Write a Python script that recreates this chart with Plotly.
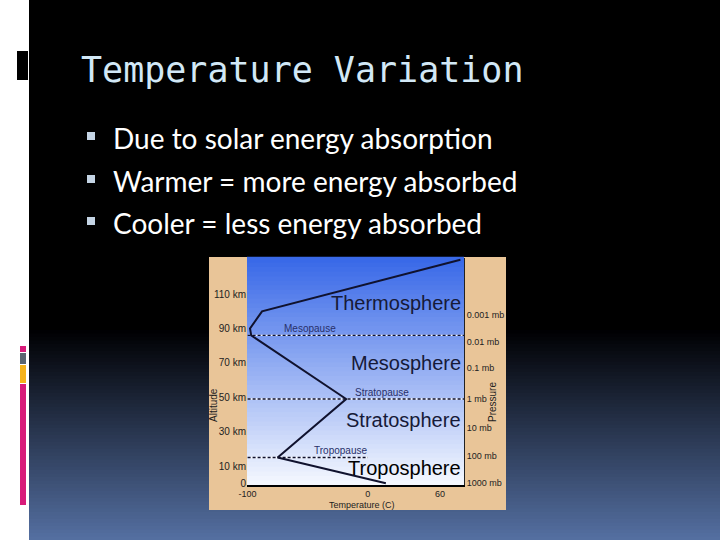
import plotly.graph_objects as go

# ---- data ----
profile_temp_c = [15, -75, -18, -97, -98, -88, 77]
profile_alt_km = [0, 15, 49, 86, 90, 100, 130]

boundary_names = ["Tropopause", "Stratopause", "Mesopause"]
boundary_alt_km = [15, 49, 86]
boundary_end_temp = [0, 80, 80]
boundary_label_temp = [-23, 12, -48]

layer_names = ["Troposphere", "Stratosphere", "Mesosphere", "Thermosphere"]
layer_label_alt = [9, 37, 70, 105]

alt_tick_vals = [0, 10, 30, 50, 70, 90, 110]
alt_tick_text = ["0", "10 km", "30 km", "50 km", "70 km", "90 km", "110 km"]

pressure_tick_alt = [0, 16, 32, 49, 67, 82, 98]
pressure_tick_text = ["1000 mb", "100 mb", "10 mb", "1 mb", "0.1 mb", "0.01 mb", "0.001 mb"]

temp_tick_vals = [-100, 0, 60]
temp_tick_text = ["-100", "0", "60"]

title_text = "Temperature Variation"
bullets = ["Due to solar energy absorption",
           "Warmer = more energy absorbed",
           "Cooler = less energy absorbed"]

W, H = 720, 540
def px(x): return x / W
def py(y): return 1 - y / H

PL, PR, PT, PB = 247, 464, 258, 485

fig = go.Figure()

for name, alt, xe in zip(boundary_names, boundary_alt_km, boundary_end_temp):
    fig.add_trace(go.Scatter(x=[-100, xe], y=[alt, alt], mode="lines",
                             line=dict(color="rgba(255,255,255,0.9)", width=1.3),
                             hoverinfo="skip", showlegend=False))
    fig.add_trace(go.Scatter(x=[-100, xe], y=[alt, alt], mode="lines",
                             line=dict(color="#10122e", width=1.3, dash="3px,2px"),
                             hoverinfo="skip", showlegend=False))
    fig.add_trace(go.Scatter(x=[-100, xe], y=[alt, alt], mode="lines",
                             line=dict(color="rgba(0,0,0,0)", width=1),
                             hoverinfo="skip", showlegend=False, yaxis="y2"))
fig.add_trace(go.Scatter(x=profile_temp_c, y=profile_alt_km, mode="lines",
                         line=dict(color="#10122e", width=2), hoverinfo="skip",
                         showlegend=False))

shapes = []
shapes.append(dict(type="rect", xref="paper", yref="paper", x0=px(29), x1=1, y0=0, y1=1,
                   fillcolor="black", line=dict(width=0), layer="below"))
g0, g1 = 330, 540
n = 60
for i in range(n):
    y0 = g0 + (g1 - g0) * i / n
    y1 = g0 + (g1 - g0) * (i + 1) / n + 0.5
    t = (i + 0.5) / n
    r = int(85 * t); g = int(112 * t); b = int(2 + 160 * t)
    shapes.append(dict(type="rect", xref="paper", yref="paper", x0=px(29), x1=1,
                       y0=py(y1), y1=py(y0), fillcolor=f"rgb({r},{g},{b})",
                       line=dict(width=0), layer="below"))
shapes.append(dict(type="rect", xref="paper", yref="paper", x0=px(17), x1=px(28), y0=py(80), y1=py(51),
                   fillcolor="black", line=dict(width=0), layer="below"))
for (a, b_, c) in [(346, 352, "#d81b7a"), (353, 364, "#5a6470"), (365, 383, "#f5b21a"), (384, 505, "#d81b7a")]:
    shapes.append(dict(type="rect", xref="paper", yref="paper", x0=px(20), x1=px(26), y0=py(b_), y1=py(a),
                       fillcolor=c, line=dict(width=0), layer="below"))
line_y = [137, 180, 222]
for yy in line_y:
    shapes.append(dict(type="rect", xref="paper", yref="paper", x0=px(87), x1=px(95),
                       y0=py(yy + 3), y1=py(yy - 5), fillcolor="#c4d4e4",
                       line=dict(width=0), layer="below"))
shapes.append(dict(type="rect", xref="paper", yref="paper", x0=px(209), x1=px(506), y0=py(510), y1=py(257),
                   fillcolor="rgb(233,197,152)", line=dict(width=0), layer="below"))
m = 50
for i in range(m):
    t = (i + 0.5) / m
    r = int(246 + (56 - 246) * t)
    g = int(249 + (104 - 249) * t)
    b = int(255 + (232 - 255) * t)
    shapes.append(dict(type="rect", xref="x domain", yref="y domain", x0=0, x1=1,
                       y0=i / m, y1=(i + 1) / m + 0.005, fillcolor=f"rgb({r},{g},{b})",
                       line=dict(width=0), layer="below"))
fig.update_layout(shapes=shapes)

ann = []
ann.append(dict(text=title_text, x=px(79), y=py(70), xref="paper", yref="paper",
                xanchor="left", yanchor="middle", showarrow=False,
                font=dict(family="DejaVu Sans Mono", size=35, color="#d2e8f6")))
for txt, yy in zip(bullets, line_y):
    ann.append(dict(text=txt, x=px(111), y=py(yy + 1), xref="paper", yref="paper",
                    xanchor="left", yanchor="middle", showarrow=False,
                    font=dict(family="Lato", size=28, color="white")))
for name, alt in zip(layer_names, layer_label_alt):
    ann.append(dict(text=name, x=79, y=alt, xref="x", yref="y", xanchor="right",
                    yanchor="middle", showarrow=False,
                    font=dict(family="Liberation Sans", size=20,
                              color="#000000" if name == "Troposphere" else "#161a38")))
for name, alt, xx in zip(boundary_names, boundary_alt_km, boundary_label_temp):
    ann.append(dict(text=name, x=xx, y=alt, xref="x", yref="y", xanchor="center",
                    yanchor="bottom", showarrow=False, yshift=-1,
                    font=dict(family="Liberation Sans", size=10, color="#28306a")))
ann.append(dict(text="Altitude", x=px(213), y=py(405), xref="paper", yref="paper",
                xanchor="center", yanchor="middle",
                textangle=-90, showarrow=False, font=dict(family="Liberation Sans", size=10, color="#222")))
ann.append(dict(text="Pressure", x=px(492), y=py(402), xref="paper", yref="paper",
                xanchor="center", yanchor="middle",
                textangle=-90, showarrow=False, font=dict(family="Liberation Sans", size=10, color="#222")))
ann.append(dict(text="Temperature (C)", x=px(362), y=py(505), xref="paper", yref="paper",
                xanchor="center", yanchor="middle",
                showarrow=False, font=dict(family="Liberation Sans", size=9, color="#222")))
fig.update_layout(annotations=ann)

fig.update_layout(
    template="none",
    width=W, height=H, margin=dict(l=0, r=0, t=0, b=0, pad=0, autoexpand=False),
    paper_bgcolor="white", plot_bgcolor="rgba(0,0,0,0)",
    xaxis=dict(domain=[px(PL), px(PR)], range=[-100.5, 80], tickvals=temp_tick_vals,
               ticktext=temp_tick_text, showgrid=False, zeroline=False, automargin=False,
               showline=True, linecolor="black", linewidth=2, ticks="", ticklabelstandoff=-1,
               tickfont=dict(family="Liberation Sans", size=9, color="#222")),
    yaxis=dict(domain=[py(PB), py(PT)], range=[-1, 131], tickvals=alt_tick_vals,
               ticktext=alt_tick_text, showgrid=False, zeroline=False, showline=False,
               automargin=False, ticks="",
               tickfont=dict(family="Liberation Sans", size=10, color="#222")),
    yaxis2=dict(overlaying="y", side="right", range=[-1, 131], tickvals=pressure_tick_alt,
                ticktext=pressure_tick_text, showgrid=False, zeroline=False, automargin=False,
                showline=True, linecolor="#222", linewidth=1, ticks="",
                tickfont=dict(family="Liberation Sans", size=9, color="#222")),
)

fig.write_html("out.html", config={"displayModeBar": False},
               post_script="document.body.style.margin='0';document.body.style.overflow='hidden';")
